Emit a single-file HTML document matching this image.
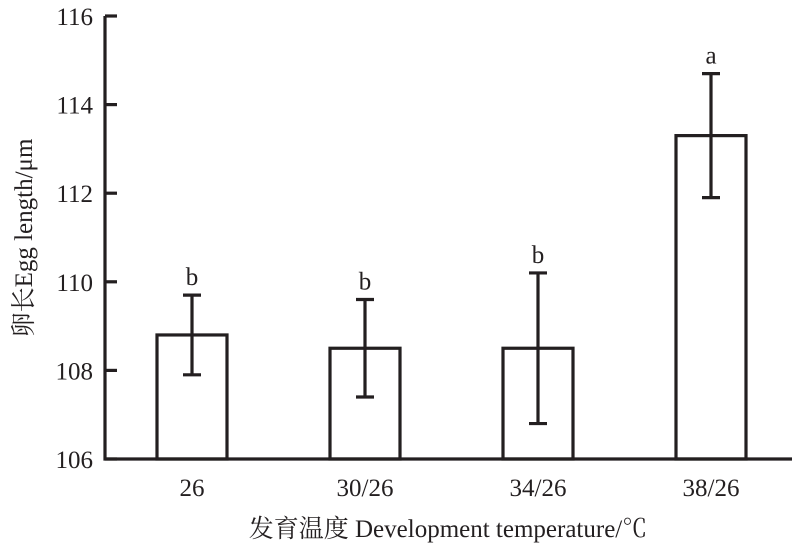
<!DOCTYPE html>
<html><head><meta charset="utf-8"><style>body{margin:0;background:#fff}svg text{font-family:"Liberation Serif","Noto Serif CJK SC",serif;fill:#231f20}</style></head>
<body>
<svg width="798" height="548" viewBox="0 0 798 548" xmlns="http://www.w3.org/2000/svg">
<g id="plot"></g>
<text x="448" y="537" font-size="25" text-anchor="middle">发育温度 Development temperature/℃</text>
<text transform="translate(32,238) rotate(-90)" font-size="25" text-anchor="middle">卵长Egg length/μm</text>
</svg>
<script>
const categories=["26","30/26","34/26","38/26"];
const means=[108.8,108.5,108.5,113.3];
const errLow=[107.9,107.4,106.8,111.9];
const errHigh=[109.7,109.6,110.2,114.7];
const letters=["b","b","b","a"];
const yTicks=[106,108,110,112,114,116];
const ns="http://www.w3.org/2000/svg";
const g=document.getElementById("plot");
const y=v=>459-(v-106)*44.3;
const xc=i=>192+i*173;
const bw=70;
function mk(t,a){const e=document.createElementNS(ns,t);for(const k in a)e.setAttribute(k,a[k]);g.appendChild(e);return e;}
const st={stroke:"#231f20","stroke-width":3.2,fill:"none"};
categories.forEach((c,i)=>{
 const b=mk("rect",Object.assign({x:xc(i)-bw/2,y:y(means[i]),width:bw,height:y(106)-y(means[i])},st));
 
 
 const e=mk("path",Object.assign({d:`M${xc(i)},${y(errLow[i])}V${y(errHigh[i])}M${xc(i)-9},${y(errLow[i])}h18M${xc(i)-9},${y(errHigh[i])}h18`},st));
 
 
 const l=mk("text",{x:xc(i),y:y(errHigh[i])-10,"font-size":25,"text-anchor":"middle"});l.textContent=letters[i];
 
 
 const t=mk("text",{x:xc(i),y:496,"font-size":25,"text-anchor":"middle"});t.textContent=c;
 
 
});
yTicks.forEach(v=>{
 const tk=mk("path",Object.assign({d:`M105,${y(v)}h12`},st));
 
 
 const t=mk("text",{x:93,y:y(v)+9,"font-size":25,"text-anchor":"end"});t.textContent=v;
 
 
});
const ax=mk("path",Object.assign({d:`M105,${y(116)}V${y(106)}H792`},st));


</script>
</body></html>
